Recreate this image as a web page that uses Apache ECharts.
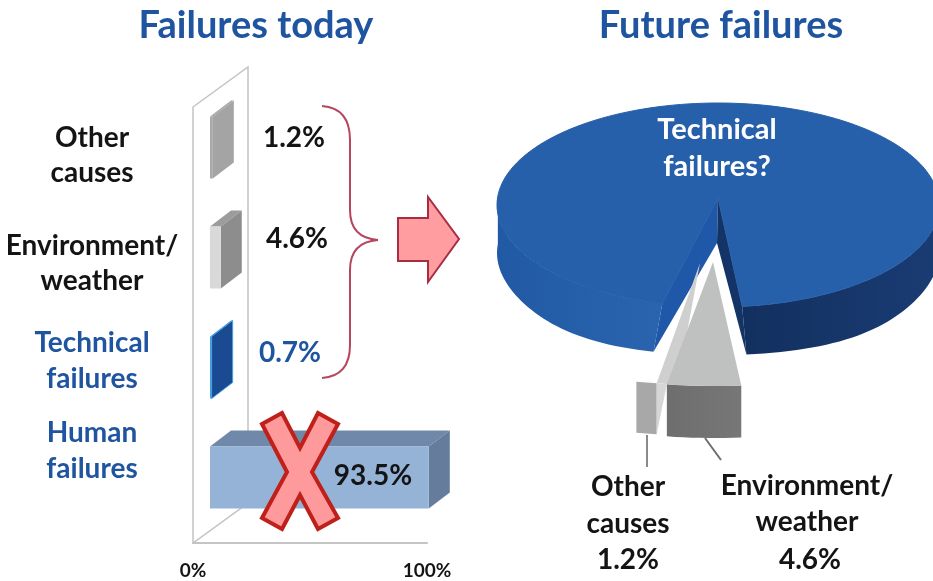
<!DOCTYPE html>
<html>
<head>
<meta charset="utf-8">
<title>Failures today and future failures</title>
<style>
  html, body { margin: 0; padding: 0; background: #fff; }
  #chart { width: 933px; height: 581px; }
</style>
<script src="https://cdn.jsdelivr.net/npm/echarts@6/dist/echarts.min.js"></script>
</head>
<body>
<div id="chart"></div>
<script>
  // bar chart on the left
  var barCategories = ['Other causes', 'Environment/weather', 'Technical failures', 'Human failures'];
  var barValues = [1.2, 4.6, 0.7, 93.5];
  var barLabels = ['1.2%', '4.6%', '0.7%', '93.5%'];
  var axisTicks = [0, 100];

  // pie on the right, clockwise from the left cut edge
  var pieNames = ['Technical failures?', 'Environment/weather', 'Other causes'];
  var pieValues = [94.2, 4.6, 1.2];

  var FONT = 'Lato, "Open Sans", sans-serif';
  var BLUE = '#1f55a0';
  var INK = '#141414';

  // colours of the box faces, same order as barCategories
  var barFaces = [
    { front: '#a8a8a8', side: '#a4a4a4', top: '#a8a8a8', edge: null },
    { front: '#d9d9d9', side: '#8d8d8d', top: '#9c9c9c', edge: null },
    { front: '#3f9fdf', side: '#1a4a92', top: '#3f9fdf', edge: '#3f9fdf' },
    { front: '#95b3d7', side: '#667c9c', top: '#7089aa', edge: null }
  ];

  // the boxes stand in the middle of the floor, not on its front edge
  var SHIFT_X = 17, SHIFT_Y = -10.5, DEPTH_X = 21, DEPTH_Y = -16;

  function renderWall(params, api) {
    var g = params.coordSys;
    var left = g.x, bottom = g.y + g.height;
    return {
      type: 'polygon',
      shape: { points: [[left, 107], [left + 55, 67], [left + 55, bottom - 40], [left, bottom]] },
      style: { fill: '#fff', stroke: '#c4c4c4', lineWidth: 1.5 }
    };
  }

  function renderBox(params, api) {
    var i = api.value(1);
    var start = api.coord([0, i]);
    var end = api.coord([api.value(0), i]);
    var h = api.size([0, 1])[1] * 0.5636;
    var face = barFaces[i];
    var x0 = start[0] + SHIFT_X, x1 = end[0] + SHIFT_X;
    var y0 = start[1] + SHIFT_Y - h / 2, y1 = y0 + h;
    var edge = face.edge ? { stroke: face.edge, lineWidth: 1 } : {};
    return {
      type: 'group',
      children: [
        { type: 'polygon', shape: { points: [[x0, y0], [x1, y0], [x1 + DEPTH_X, y0 + DEPTH_Y], [x0 + DEPTH_X, y0 + DEPTH_Y]] }, style: { fill: face.top } },
        { type: 'polygon', shape: { points: [[x1, y0], [x1 + DEPTH_X, y0 + DEPTH_Y], [x1 + DEPTH_X, y1 + DEPTH_Y], [x1, y1]] }, style: Object.assign({ fill: face.side }, edge) },
        { type: 'rect', shape: { x: x0, y: y0, width: x1 - x0, height: h }, style: { fill: face.front } }
      ]
    };
  }

  // pie geometry, angles in degrees clockwise from 12 o'clock
  var PIE = { cx: 718, cy: 205, rx: 221, ry: 102, h: 48, apexX: 718, apexY: 198, start: 194.6 };
  // pulled out slices: where the apex goes and how much the piece widens towards the viewer
  var EXPLODE = [
    null,
    { ax: 713, ay: 262, topAx: 713, dy: 79, spread: 1.17, h: 52 },
    { ax: 706, ay: 263, topAx: 700, dy: 78, spread: 1.25, h: 51 }
  ];

  function rimX(a) { return PIE.rx * Math.sin(a * Math.PI / 180); }
  function rimY(a) { return PIE.cy - PIE.ry * Math.cos(a * Math.PI / 180); }

  function upper(a) { return [PIE.cx + rimX(a), rimY(a)]; }
  function lower(a) {
    var c = Math.max(0, -Math.cos(a * Math.PI / 180));
    return [PIE.cx + rimX(a) * (1 + 0.18 * Math.pow(c, 4)), rimY(a) + PIE.h];
  }
  function arc(fn, a, b) {
    var pts = [];
    var step = (b - a) / Math.max(2, Math.ceil(Math.abs(b - a) / 2));
    for (var k = 0; Math.abs(step * k) <= Math.abs(b - a) + 1e-6; k++) {
      pts.push(fn(a + step * k));
    }
    return pts;
  }
  function poly(points, fill, z2) {
    return { type: 'polygon', z2: z2 || 0, shape: { points: points }, style: { fill: fill } };
  }
  function hGrad(a, b) {
    return new echarts.graphic.LinearGradient(0, 0, 1, 0, [{ offset: 0, color: a }, { offset: 1, color: b }]);
  }

  var pieTotal = pieValues.reduce(function (s, v) { return s + v; }, 0);

  function renderSlice(params, api) {
    var i = params.dataIndex;
    var a = PIE.start;
    for (var k = 0; k < i; k++) a += pieValues[k] / pieTotal * 360;
    var b = a + api.value(0) / pieTotal * 360;
    var apex = [PIE.apexX, PIE.apexY];
    var kids = [];

    if (i === 0) {
      var inner = [PIE.apexX - 1, PIE.apexY + 45];
      kids.push(poly(arc(upper, a, 275).concat(arc(lower, 275, a)), hGrad('#2159a5', '#2a64ae')));
      kids.push(poly(arc(upper, 445, b).concat(arc(lower, b, 445)), hGrad('#12305f', '#1a3c74')));
      kids.push(poly([apex, upper(a), lower(a), inner], '#1f58a8'));
      kids.push(poly([apex, upper(b), lower(b), inner], '#143468'));
      var top = poly([apex].concat(arc(upper, a, b)), '#2760aa', 1);
      top.style.stroke = '#2760aa';
      top.style.lineWidth = 1;
      kids.push(top);
    } else {
      var e = EXPLODE[i];
      var topPt = function (t) { return [e.ax + rimX(t) * e.spread, rimY(t) + e.dy]; };
      var lowPt = function (t) { return [e.ax + rimX(t) * e.spread, rimY(t) + e.dy + e.h]; };
      if (i === 1) {
        kids.push(poly(arc(topPt, a, b).concat(arc(lowPt, b, a)), hGrad('#6e6e6e', '#777777'), 5));
        kids.push(poly([[e.topAx, e.ay]].concat(arc(topPt, a, b)), '#bfc0c0', 6));
      } else {
        // only the part next to the wide slice shows from above
        var w = b - a;
        var envLeft = [EXPLODE[1].ax + rimX(a) * EXPLODE[1].spread, rimY(a) + EXPLODE[1].dy];
        kids.push(poly([[e.topAx, e.ay]].concat(arc(topPt, a - w, a)), '#cfcfcf', 2));
        kids.push(poly(arc(topPt, a, b).concat(arc(lowPt, b, a)), '#a8a8a8', 3));
        kids.push(poly([topPt(a), envLeft, lowPt(a)], '#d6d6d6', 3));
      }
    }
    return { type: 'group', children: kids };
  }

  function text(str, x, y, size, color) {
    return {
      type: 'text',
      x: x,
      y: y,
      style: { text: str, fill: color, font: 'bold ' + size + 'px ' + FONT, textAlign: 'center', textVerticalAlign: 'middle' }
    };
  }

  var braceStyle = { fill: 'none', stroke: '#b5465e', lineWidth: 2 };

  var elements = [
    // brace
    { type: 'bezierCurve', shape: { x1: 322, y1: 106, cpx1: 350, cpy1: 108, x2: 350, y2: 140 }, style: braceStyle },
    { type: 'line', shape: { x1: 350, y1: 140, x2: 350, y2: 210 }, style: braceStyle },
    { type: 'bezierCurve', shape: { x1: 350, y1: 210, cpx1: 350, cpy1: 238, x2: 378, y2: 240 }, style: braceStyle },
    { type: 'bezierCurve', shape: { x1: 378, y1: 240, cpx1: 350, cpy1: 242, x2: 350, y2: 270 }, style: braceStyle },
    { type: 'line', shape: { x1: 350, y1: 270, x2: 350, y2: 345 }, style: braceStyle },
    { type: 'bezierCurve', shape: { x1: 350, y1: 345, cpx1: 350, cpy1: 376, x2: 322, y2: 378 }, style: braceStyle },
    // arrow
    {
      type: 'polygon',
      shape: { points: [[398, 218], [428, 218], [428, 197], [459, 239], [428, 282], [428, 261], [398, 261]] },
      style: { fill: '#ff9da1', stroke: '#a92c45', lineWidth: 2 }
    },
    // cross on top of the human failures bar
    {
      type: 'polygon',
      shape: { points: [[262, 424], [282, 413], [300, 448], [318, 413], [338, 424], [312, 472], [338, 518], [318, 529], [300, 495], [282, 529], [262, 518], [287, 472]] },
      style: { fill: '#ff9a9c', stroke: '#c0201a', lineWidth: 4 }
    },
    // leader lines of the pie
    { type: 'line', shape: { x1: 647, y1: 435, x2: 647, y2: 467 }, style: { stroke: '#8a8a8a', lineWidth: 2 } },
    { type: 'line', shape: { x1: 705, y1: 438, x2: 721, y2: 460 }, style: { stroke: '#6e6e6e', lineWidth: 2 } },

    text('Other', 92, 138, 28, INK),
    text('causes', 92, 173, 28, INK),
    text('Environment/', 92, 246, 28, INK),
    text('weather', 92, 281, 28, INK),
    text('Technical', 92, 343, 28, BLUE),
    text('failures', 92, 379, 28, BLUE),
    text('Human', 92, 433, 28, BLUE),
    text('failures', 92, 469, 28, BLUE),

    text(barLabels[0], 294, 138, 28, INK),
    text(barLabels[1], 297, 239, 28, INK),
    text(barLabels[2], 290, 353, 28, BLUE),
    text(barLabels[3], 373, 476, 28, INK),

    text('Technical', 717, 130, 29, '#fff'),
    text('failures?', 717, 167, 29, '#fff'),
    text('Other', 628, 487, 28, INK),
    text('causes', 628, 524, 28, INK),
    text('1.2%', 628, 560, 28, INK),
    text('Environment/', 807, 486, 28, INK),
    text('weather', 807, 522, 28, INK),
    text('4.6%', 810, 560, 28, INK)
  ];

  var myChart = echarts.init(document.getElementById('chart'));
  var option = {
    animation: false,
    backgroundColor: '#fff',
    title: [
      { text: 'Failures today', left: 256, top: 7, padding: 0, textAlign: 'center', textStyle: { color: BLUE, fontFamily: FONT, fontWeight: 'bold', fontSize: 38 } },
      { text: 'Future failures', left: 721, top: 7, padding: 0, textAlign: 'center', textStyle: { color: BLUE, fontFamily: FONT, fontWeight: 'bold', fontSize: 38 } }
    ],
    grid: { left: 193, top: 103, width: 234, height: 440 },
    xAxis: {
      type: 'value',
      min: axisTicks[0],
      max: axisTicks[1],
      interval: axisTicks[1],
      splitLine: { show: false },
      axisTick: { show: false },
      axisLine: { show: true, lineStyle: { color: '#c4c4c4', width: 2 } },
      axisLabel: { formatter: '{value}%', margin: 18, color: INK, fontFamily: FONT, fontWeight: 'bold', fontSize: 19 }
    },
    yAxis: {
      type: 'category',
      inverse: true,
      data: barCategories,
      show: false
    },
    series: [
      {
        name: 'wall',
        type: 'custom',
        z: -2,
        silent: true,
        renderItem: renderWall,
        data: [[0, 0]]
      },
      {
        name: 'Failures today',
        type: 'custom',
        z: -1,
        silent: true,
        renderItem: renderBox,
        encode: { x: 0, y: 1 },
        data: barValues.map(function (v, i) { return [v, i]; })
      },
      {
        name: 'Future failures',
        type: 'custom',
        coordinateSystem: 'none',
        z: -1,
        silent: true,
        renderItem: renderSlice,
        data: pieValues.map(function (v, i) { return { name: pieNames[i], value: [v] }; })
      }
    ],
    graphic: { elements: elements }
  };
  option && myChart.setOption(option);
</script>
</body>
</html>
